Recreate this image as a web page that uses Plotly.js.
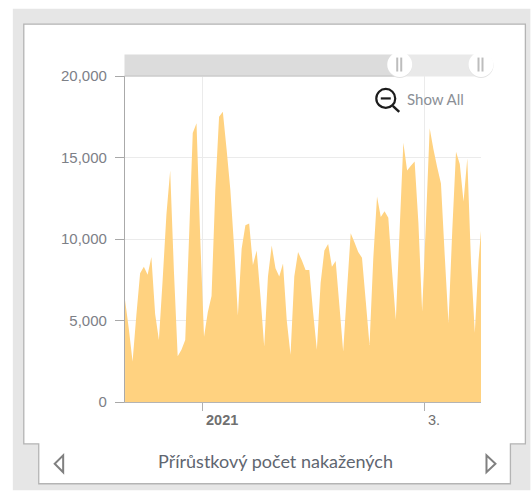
<!DOCTYPE html>
<html><head><meta charset="utf-8">
<script src="https://cdn.plot.ly/plotly-3.0.1.min.js"></script>
<style>html,body{margin:0;padding:0;background:#fff}#c{width:531px;height:491px}</style>
</head><body><div id="c"></div>
<script>
const firstDay = '2020-12-11T08:00:00Z';
const cases = [6260,4500,2490,5300,7900,8300,7800,8900,5400,3800,7500,11500,14200,8000,2800,3200,3800,10000,16500,17100,10000,4000,5500,6500,13000,17500,17800,15500,13000,9500,5300,9400,10850,10950,8400,9300,6500,3400,7700,9600,8200,7700,8500,5000,2900,7700,9200,8700,8100,8100,5500,3200,7300,9300,9700,8300,8650,5900,3100,6800,10350,9800,9200,8850,6200,3500,8800,12600,11350,11700,11300,8000,5050,10500,15900,14200,14500,14750,11000,5550,11000,16800,15500,14400,13400,9000,4850,10500,15350,14600,12300,14950,8500,4250,8700,11500];
const yTicks = [0,5000,10000,15000,20000];
const xRange = ['2020-12-11T07:40:00Z','2021-03-15T23:30:00Z'];
const xTicks = ['2021-01-01','2021-03-01'];
const xLabels = ['<b>2021</b>','3.'];
const chartTitle = 'Přírůstkový počet nakažených';
const showAll = 'Show All';

const W = 531, H = 491, L = 124.5, R = 481.5, T = 75.5, B = 402.5;
const dates = cases.map((_, i) => new Date(Date.parse(firstDay) + i * 864e5).toISOString());
const px = x => (x - L) / (R - L), py = y => (B - y) / (B - T);
const poly = (pts, extra) => Object.assign({type:'path', xref:'paper', yref:'paper',
  path: 'M' + pts.map(p => px(p[0]) + ',' + py(p[1])).join('L') + 'Z'}, extra);
const rect = (x0,y0,x1,y1,fill,layer) => ({type:'rect', xref:'paper', yref:'paper', x0:px(x0), x1:px(x1),
  y0:py(y0), y1:py(y1), fillcolor:fill, line:{width:0}, layer:layer||'below'});
const line = (x0,y0,x1,y1,color,w) => ({type:'line', xref:'paper', yref:'paper', x0:px(x0), x1:px(x1),
  y0:py(y0), y1:py(y1), line:{color:color, width:w}});
const circ = (cx,cy,r,fill,lc,w) => ({type:'circle', xref:'paper', yref:'paper', x0:px(cx-r), x1:px(cx+r),
  y0:py(cy+r), y1:py(cy-r), fillcolor:fill, line:{color:lc, width:w}});
const tri = pts => poly(pts, {fillcolor:'#ffffff', line:{color:'#808080', width:2}});

const shapes = [
  rect(12,8,531,491,'#e6e6e6'),
  poly([[23,23.5],[526,23.5],[526,444.5],[511,444.5],[511,484.5],[38,484.5],[38,444.5],[23,444.5]],
       {fillcolor:'#ffffff', line:{color:'#b4b4b4', width:1.3}, layer:'below'}),
  rect(124,54,400,76,'#dcdcdc'),
  rect(400,54,482,76,'#e9e9e9'),
  line(124,75.5,400,75.5,'#c4c4c4',1),
  circ(400,65,12.5,'#e2e2e2','#e2e2e2',0),
  circ(481.5,65,12.5,'#e2e2e2','#e2e2e2',0),
  circ(400,64,12.5,'#ffffff','#ffffff',0),
  circ(481.5,64,12.5,'#ffffff','#ffffff',0),
  line(397.5,57,397.5,71,'#bdbdbd',2), line(401.5,57,401.5,71,'#bdbdbd',2),
  line(479,57,479,71,'#bdbdbd',2), line(483,57,483,71,'#bdbdbd',2),
  circ(386,98,9.5,'rgba(0,0,0,0)','#1c1c1c',2.2),
  line(381,98,391,98,'#1c1c1c',2.2),
  line(393,105.5,399.5,111.5,'#1c1c1c',2.5),
  tri([[62.5,456],[62.5,473],[54,464.5]]),
  tri([[487,456],[487,473],[496,464.5]])
];

const annotations = [
  ...xTicks.map((d,i) => ({x:d, y:0, xref:'x', yref:'paper', yshift:-18, xshift:i?1.5:1.5, xanchor:'left', yanchor:'middle',
    text:xLabels[i], showarrow:false, font:{family:'Liberation Sans, Arial, sans-serif', size:14.5, color:'#707070'}})),
  {x:px(405), y:py(99), xref:'paper', yref:'paper', xanchor:'left', yanchor:'middle', text:showAll, showarrow:false,
    font:{family:'Lato, sans-serif', size:15, color:'#8b8f96'}},
  {x:px(275), y:py(462), xref:'paper', yref:'paper', xanchor:'center', yanchor:'middle', text:chartTitle, showarrow:false,
    font:{family:'Lato, sans-serif', size:18, color:'#5f6670'}}
];

Plotly.newPlot('c', [{
  x: dates, y: cases, type:'scatter', mode:'none', fill:'tozeroy', fillcolor:'#ffd280', hoverinfo:'x+y'
}], {
  width:W, height:H, showlegend:false, autosize:false,
  margin:{l:L, r:W-R, t:T, b:H-B, pad:0},
  paper_bgcolor:'#ffffff', plot_bgcolor:'rgba(0,0,0,0)',
  xaxis:{type:'date', range:xRange, tickmode:'array', tickvals:xTicks, ticktext:['',''], showticklabels:false,
    ticks:'outside', ticklen:8, tickcolor:'#b0b0b0', tickwidth:1, showgrid:true, gridcolor:'#ebebeb', gridwidth:1.2,
    showline:true, linecolor:'#b4b4b4', linewidth:1.2, zeroline:false},
  yaxis:{range:[0,20000], tickmode:'array', tickvals:yTicks, tickformat:',d', ticks:'outside', ticklen:9,
    tickcolor:'#a8a8a8', tickwidth:1, showgrid:true, gridcolor:'#ebebeb', gridwidth:1.2, showline:true,
    linecolor:'#aaaaaa', linewidth:1.2, zeroline:false, ticklabelstandoff:5,
    tickfont:{family:'Liberation Sans, Arial, sans-serif', size:15, color:'#7d8087'}},
  shapes, annotations
}, {displayModeBar:false});
</script></body></html>
